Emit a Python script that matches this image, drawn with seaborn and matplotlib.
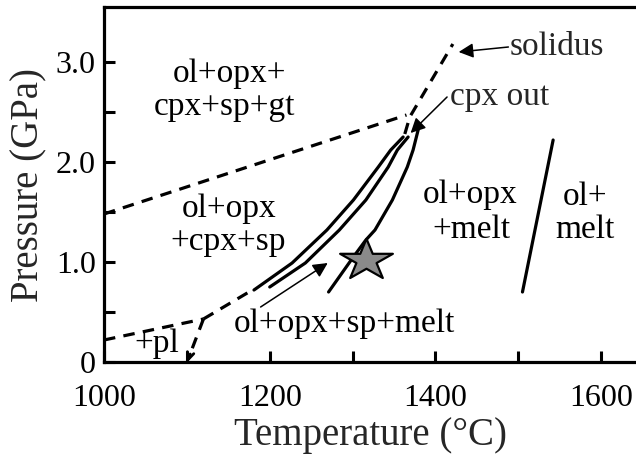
import numpy as np
import pandas as pd
import matplotlib
matplotlib.use("Agg")
import matplotlib.pyplot as plt
from matplotlib.path import Path
import seaborn as sns

# Phase boundaries: temperature (°C) and pressure (GPa)
gt_sp_T = [1000, 1365]
gt_sp_P = [1.48, 2.47]
solidus_hi_T = [1363, 1369, 1421]
solidus_hi_P = [2.28, 2.45, 3.18]
pl_sp_T = [1000, 1120]
pl_sp_P = [0.22, 0.43]
solidus_lo_T = [1120, 1181]
solidus_lo_P = [0.43, 0.73]
pl_out_T = [1120, 1103]
pl_out_P = [0.43, 0.06]

melt_a_T = [1181, 1227, 1269, 1301, 1331, 1346, 1361]
melt_a_P = [0.72, 0.99, 1.32, 1.62, 1.95, 2.12, 2.25]
melt_b_T = [1200, 1243, 1284, 1316, 1343, 1354, 1367]
melt_b_P = [0.75, 0.99, 1.32, 1.62, 1.95, 2.12, 2.25]
cpx_out_T = [1271, 1300, 1316, 1327, 1348, 1366, 1373, 1380]
cpx_out_P = [0.70, 1.04, 1.22, 1.32, 1.62, 1.95, 2.12, 2.35]
opx_out_T = [1505, 1542]
opx_out_P = [0.70, 2.22]

# Sample condition
sample_T = [1316]
sample_P = [1.02]

x_ticks = [1000, 1200, 1400, 1600]
x_tick_labels = ["1000", "1200", "1400", "1600"]
y_ticks = [0, 1, 2, 3]
y_tick_labels = ["0", "1.0", "2.0", "3.0"]

segments = [
    ("gt_sp", "dashed", gt_sp_T, gt_sp_P),
    ("solidus_hi", "dashed", solidus_hi_T, solidus_hi_P),
    ("pl_sp", "dashed", pl_sp_T, pl_sp_P),
    ("solidus_lo", "dashed", solidus_lo_T, solidus_lo_P),
    ("pl_out", "dashed", pl_out_T, pl_out_P),
    ("melt_a", "solid", melt_a_T, melt_a_P),
    ("melt_b", "solid", melt_b_T, melt_b_P),
    ("cpx_out", "solid", cpx_out_T, cpx_out_P),
    ("opx_out", "solid", opx_out_T, opx_out_P),
]
rows = []
for name, kind, ts, ps in segments:
    for i, (t, p) in enumerate(zip(ts, ps)):
        rows.append({"seg": name, "kind": kind, "order": i, "T": t, "P": p})
df = pd.DataFrame(rows)

sns.set_theme(style="ticks")
plt.rcParams["font.family"] = ["Liberation Serif", "DejaVu Serif"]
plt.rcParams["lines.solid_joinstyle"] = "round"

fig = plt.figure(figsize=(6.36, 4.57), dpi=100)
ax = fig.add_axes([104 / 636, 1 - 362 / 457, 1 - 104 / 636, (362 - 7) / 457])

sns.lineplot(data=df, x="T", y="P", units="seg", style="kind",
             dashes={"solid": "", "dashed": (3.6, 2.6)},
             estimator=None, sort=False, color="black", lw=2.3,
             legend=False, ax=ax)

# Arrowhead at the lower end of the plagioclase-out boundary
ax.annotate("", xy=(1101, 0.0), xytext=(1104, 0.08),
            arrowprops=dict(arrowstyle="->", lw=2.0, color="black",
                            mutation_scale=12, shrinkA=0, shrinkB=0))

# Five-pointed star marker, slightly flattened
ang = np.pi / 2 + np.arange(10) * np.pi / 5
rad = np.where(np.arange(10) % 2 == 0, 1.0, 0.382)
verts = np.column_stack([rad * np.cos(ang), 0.78 * rad * np.sin(ang)])
verts = np.vstack([verts, verts[:1]])
star = Path(verts, [Path.MOVETO] + [Path.LINETO] * 9 + [Path.CLOSEPOLY])
sns.scatterplot(x=sample_T, y=sample_P, marker=star, s=38 ** 2,
                color="#8a8a8a", edgecolor="black", linewidth=1.6,
                ax=ax, zorder=5, legend=False)

fs = 24
region_lines = [
    ("ol+opx+", 1151, 2.80),
    ("cpx+sp+gt", 1146, 2.47),
    ("ol+opx", 1151, 1.45),
    ("+cpx+sp", 1150, 1.12),
    ("ol+opx", 1442, 1.59),
    ("+melt", 1443, 1.24),
    ("ol+", 1581, 1.57),
    ("melt", 1581, 1.24),
    ("ol+opx+sp+melt", 1290, 0.30),
    ("+pl", 1064, 0.10),
]
for txt, t, p in region_lines:
    ax.text(t, p, txt, ha="center", va="baseline", fontsize=fs, color="black")

ax.text(1490, 3.07, "solidus", ha="left", va="baseline", fontsize=fs)
ax.text(1417, 2.57, "cpx out", ha="left", va="baseline", fontsize=fs)

arrow_kw = dict(arrowstyle="-|>", lw=1.1, color="black",
                mutation_scale=22, shrinkA=0, shrinkB=0)
ax.annotate("", xy=(1428, 3.10), xytext=(1488, 3.15), arrowprops=arrow_kw)
ax.annotate("", xy=(1370, 2.29), xytext=(1414, 2.65), arrowprops=arrow_kw)
ax.annotate("", xy=(1270, 0.99), xytext=(1189, 0.55), arrowprops=arrow_kw)

ax.set_xlim(1000, 1642)
ax.set_ylim(0, 3.55)
ax.set_xticks(x_ticks)
ax.set_xticklabels(x_tick_labels)
ax.set_xticks([1100, 1300, 1500], minor=True)
ax.set_yticks(y_ticks)
ax.set_yticklabels(y_tick_labels)
ax.set_yticks([0.5, 1.5, 2.5], minor=True)
ax.tick_params(axis="both", which="both", direction="in", length=8,
               width=2.2, labelsize=23, color="black", labelcolor="black")
ax.tick_params(axis="x", which="major", pad=16)
ax.tick_params(axis="y", which="major", pad=6)

for side in ("left", "bottom", "top"):
    ax.spines[side].set_linewidth(2.3)
    ax.spines[side].set_color("black")
ax.spines["right"].set_visible(False)

ax.set_xlabel("Temperature (°C)", fontsize=28, labelpad=3)
ax.set_ylabel("Pressure (GPa)", fontsize=28, labelpad=6)
ax.set_facecolor("white")
fig.patch.set_facecolor("white")

fig.savefig("out.png", dpi=100)
